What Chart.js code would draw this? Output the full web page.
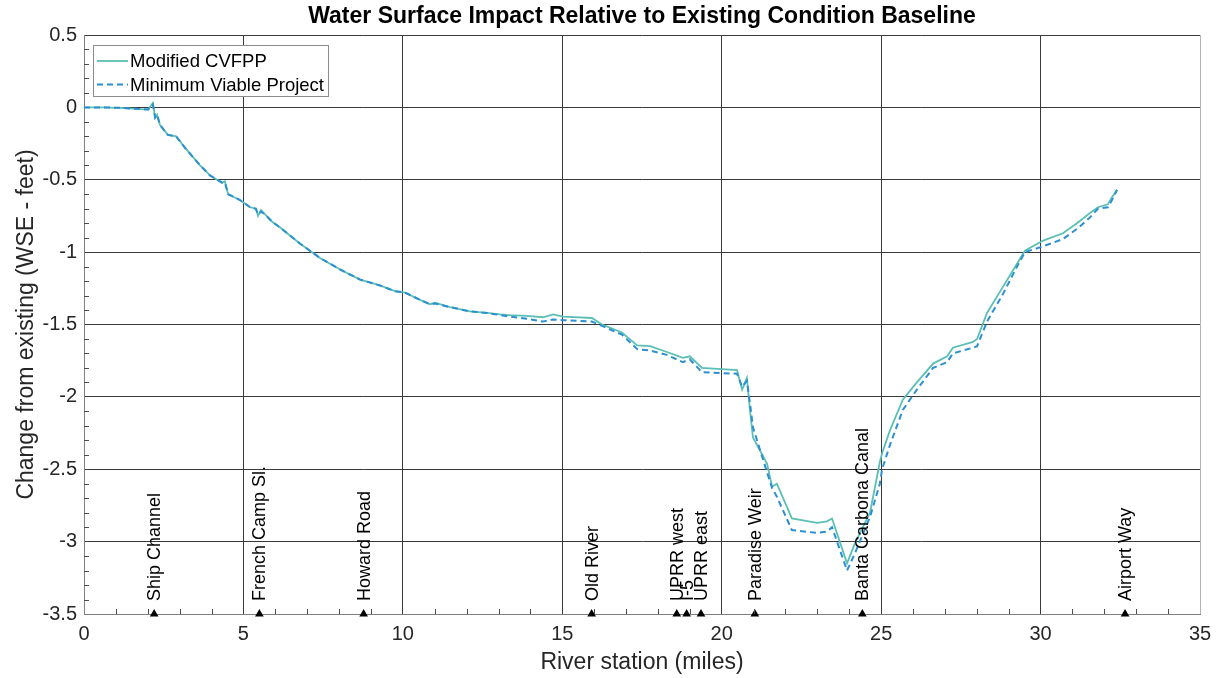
<!DOCTYPE html>
<html>
<head>
<meta charset="utf-8">
<script src="https://cdn.jsdelivr.net/npm/chart.js@4"></script>
<style>
    html, body { margin: 0; padding: 0; background: #fff; }
</style>
</head>
<body>
<canvas id="grafico" width="1220" height="678"></canvas>
<script>
// River station (miles)
const station = [
    0, 0.5, 1.13, 2.01, 2.16, 2.23, 2.29, 2.38, 2.63, 2.89,
    3.17, 3.64, 3.95, 4.33, 4.42, 4.52, 4.89, 5.21, 5.39, 5.46,
    5.55, 5.68, 5.9, 6.15, 6.77, 7.4, 8.03, 8.66, 9.28, 9.75,
    10.07, 10.54, 10.85, 11.01, 11.48, 12.11, 12.64, 13.05, 13.36, 13.89,
    14.4, 14.71, 15.02, 15.93, 16.25, 16.87, 17.35, 17.75, 18.28, 18.78,
    19.0, 19.38, 20.48, 20.64, 20.79, 20.89, 20.98, 21.42, 21.58, 21.73,
    22.2, 22.99, 23.3, 23.46, 23.93, 24.18, 24.65, 24.96, 25.03, 25.28,
    25.68, 26.12, 26.63, 27.07, 27.25, 27.88, 28.01, 28.32, 28.82, 29.26,
    29.51, 30.08, 30.7, 31.14, 31.55, 31.8, 32.11, 32.24, 32.4
];

// Modified CVFPP
const modificado = [
    0, 0, -0.003, -0.015, 0.03, -0.07, -0.05, -0.12, -0.19, -0.2,
    -0.28, -0.4, -0.47, -0.52, -0.51, -0.6, -0.64, -0.69, -0.7, -0.75,
    -0.71, -0.74, -0.79, -0.83, -0.94, -1.04, -1.12, -1.19, -1.23, -1.27,
    -1.28, -1.33, -1.36, -1.35, -1.38, -1.41, -1.42, -1.43, -1.435, -1.44,
    -1.45, -1.43, -1.445, -1.455, -1.5, -1.555, -1.645, -1.65, -1.69, -1.73,
    -1.72, -1.8, -1.815, -1.95, -1.87, -2.1, -2.28, -2.46, -2.62, -2.6,
    -2.84, -2.87, -2.86, -2.84, -3.15, -3.01, -2.8, -2.45, -2.39, -2.23,
    -2.02, -1.9, -1.77, -1.72, -1.66, -1.62, -1.6, -1.42, -1.24, -1.08,
    -0.99, -0.92, -0.87, -0.8, -0.73, -0.69, -0.67, -0.62, -0.57
];

// Minimum Viable Project
const minimo = [
    0, 0, -0.003, -0.015, 0.02, -0.07, -0.05, -0.12, -0.19, -0.2,
    -0.28, -0.4, -0.47, -0.52, -0.52, -0.6, -0.64, -0.69, -0.7, -0.74,
    -0.72, -0.74, -0.79, -0.83, -0.94, -1.04, -1.12, -1.19, -1.23, -1.27,
    -1.28, -1.33, -1.36, -1.355, -1.38, -1.41, -1.42, -1.435, -1.445, -1.46,
    -1.48, -1.465, -1.47, -1.48, -1.51, -1.57, -1.67, -1.68, -1.71, -1.76,
    -1.74, -1.83, -1.84, -1.93, -1.89, -2.05, -2.21, -2.52, -2.63, -2.69,
    -2.92, -2.94, -2.93, -2.9, -3.2, -3.08, -2.83, -2.6, -2.5, -2.33,
    -2.09, -1.95, -1.8, -1.76, -1.7, -1.66, -1.65, -1.48, -1.29, -1.1,
    -1.0, -0.96, -0.91, -0.84, -0.76, -0.7, -0.69, -0.64, -0.57
];

const lugares = ["Ship Channel", "French Camp Sl.", "Howard Road", "Old River", "UPRR west",
    "I-5", "UPRR east", "Paradise Weir", "Banta Carbona Canal", "Airport Way"];
const lugaresMilla = [2.2, 5.5, 8.77, 15.92, 18.59, 18.9, 19.35, 21.04, 24.41, 32.65];

const xTicks = [0, 5, 10, 15, 20, 25, 30, 35];
const yTicks = [0.5, 0, -0.5, -1, -1.5, -2, -2.5, -3, -3.5];

const FUENTE = "'Liberation Sans', Arial, Helvetica, sans-serif";

const puntos = (ys) => station.map((x, i) => ({ x: x, y: ys[i] }));

// minor ticks, axis titles, title, station labels, legend
const extras = {
    id: "extras",
    afterDatasetsDraw(chart) {
        const ctx = chart.ctx;
        const xs = chart.scales.x;
        const ys = chart.scales.y;
        const a = chart.chartArea;
        ctx.save();

        ctx.strokeStyle = "#4d4d4d";
        ctx.lineWidth = 1;
        ctx.beginPath();
        for (let m = 1; m < 35; m++) {
            if (m % 5 === 0) continue;
            const px = Math.round(xs.getPixelForValue(m)) + 0.5;
            ctx.moveTo(px, a.bottom);
            ctx.lineTo(px, a.bottom - 5);
        }
        for (let k = -34; k < 5; k++) {
            if (k % 5 === 0) continue;
            const py = Math.round(ys.getPixelForValue(k / 10)) + 0.5;
            ctx.moveTo(a.left, py);
            ctx.lineTo(a.left + 5, py);
        }
        ctx.stroke();

        // station labels
        ctx.fillStyle = "#000";
        ctx.font = "18px " + FUENTE;
        ctx.textAlign = "left";
        ctx.textBaseline = "middle";
        lugares.forEach((nombre, i) => {
            const px = xs.getPixelForValue(lugaresMilla[i]) + 1;
            const py = ys.getPixelForValue(-3.5) - 13;
            ctx.save();
            ctx.translate(px, py);
            ctx.rotate(-Math.PI / 2);
            ctx.fillText(nombre, 0, 0);
            ctx.restore();
        });

        // legend
        ctx.fillStyle = "#fff";
        ctx.fillRect(93.5, 45.5, 235, 51);
        ctx.strokeStyle = "#8c8c8c";
        ctx.strokeRect(93.5, 45.5, 235, 51);
        chart.data.datasets.slice(0, 2).forEach((ds, i) => {
            const ly = 61 + i * 23.5;
            ctx.strokeStyle = ds.borderColor;
            ctx.lineWidth = ds.borderWidth;
            ctx.setLineDash(ds.borderDash || []);
            ctx.beginPath();
            ctx.moveTo(97, ly);
            ctx.lineTo(128, ly);
            ctx.stroke();
            ctx.setLineDash([]);
            ctx.fillStyle = "#000";
            ctx.font = "18.5px " + FUENTE;
            ctx.fillText(ds.label, 130, ly + 1);
        });

        // title and axis titles
        ctx.fillStyle = "#000";
        ctx.textAlign = "center";
        ctx.font = "bold 23px " + FUENTE;
        ctx.fillText("Water Surface Impact Relative to Existing Condition Baseline", (a.left + a.right) / 2, 17);
        ctx.fillStyle = "#262626";
        ctx.font = "23px " + FUENTE;
        ctx.fillText("River station (miles)", (a.left + a.right) / 2, 663);
        ctx.save();
        ctx.translate(27, (a.top + a.bottom) / 2);
        ctx.rotate(-Math.PI / 2);
        ctx.fillText("Change from existing (WSE - feet)", 0, 0);
        ctx.restore();

        ctx.restore();
    }
};

new Chart(document.getElementById("grafico"), {
    type: "line",
    data: {
        datasets: [
            {
                label: "Modified CVFPP",
                data: puntos(modificado),
                borderColor: "#5bbfb4",
                borderWidth: 1.8,
                pointRadius: 0,
                tension: 0,
                order: 2
            },
            {
                label: "Minimum Viable Project",
                data: puntos(minimo),
                borderColor: "#2b8fd1",
                borderWidth: 2,
                borderDash: [6, 4],
                pointRadius: 0,
                tension: 0,
                order: 1
            },
            {
                label: "stations",
                data: lugaresMilla.map(m => ({ x: m, y: -3.5 })),
                showLine: false,
                pointStyle: "triangle",
                pointRadius: 5,
                backgroundColor: "#000",
                borderColor: "#000",
                borderWidth: 0,
                clip: false,
                order: 0
            }
        ]
    },
    options: {
        responsive: false,
        animation: false,
        events: [],
        layout: { padding: { top: 35, right: 20, left: 0, bottom: 0 } },
        plugins: {
            legend: { display: false },
            title: { display: false },
            tooltip: { enabled: false }
        },
        scales: {
            x: {
                type: "linear",
                min: 0,
                max: 35,
                afterFit: (s) => { s.height = 64; },
                afterBuildTicks: (s) => { s.ticks = xTicks.map(v => ({ value: v })); },
                ticks: {
                    color: "#262626",
                    font: { family: FUENTE, size: 20 },
                    padding: 8,
                    maxRotation: 0
                },
                grid: {
                    drawTicks: false,
                    color: (c) => {
                        if (!c.tick) return "#3a3a3a";
                        if (c.tick.value === 35) return "#b3b3b3";
                        if (c.tick.value === 0) return "#7f7f7f";
                        return "#3a3a3a";
                    },
                    lineWidth: 1
                },
                border: { color: "#7f7f7f" }
            },
            y: {
                type: "linear",
                min: -3.5,
                max: 0.5,
                afterFit: (s) => { s.width = 84; },
                afterBuildTicks: (s) => { s.ticks = yTicks.map(v => ({ value: v })); },
                ticks: {
                    color: "#262626",
                    font: { family: FUENTE, size: 20 },
                    padding: 7,
                    callback: (v) => String(v)
                },
                grid: {
                    drawTicks: false,
                    color: (c) => (c.tick && c.tick.value === -3.5) ? "#7f7f7f" : "#3a3a3a",
                    lineWidth: 1
                },
                border: { color: "#7f7f7f" }
            }
        }
    },
    plugins: [extras]
});
</script>
</body>
</html>
